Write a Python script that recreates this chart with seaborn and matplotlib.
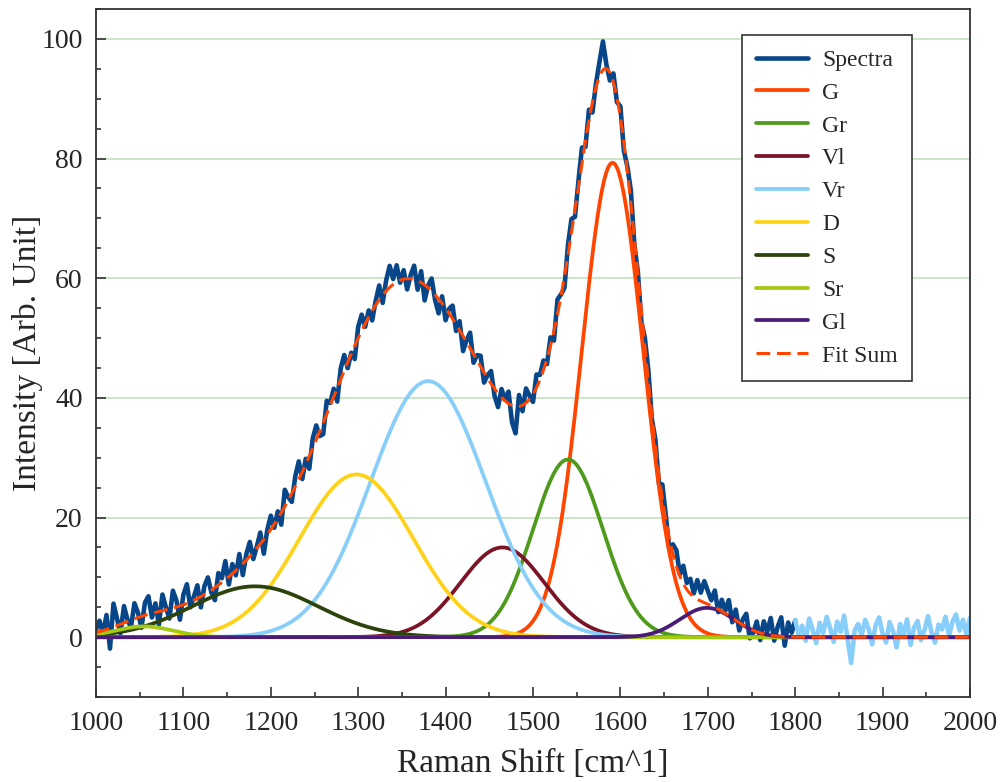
import numpy as np
import pandas as pd
import matplotlib
matplotlib.use("Agg")
import matplotlib.pyplot as plt
from matplotlib.ticker import MultipleLocator
import seaborn as sns

# ---- Peak fit results (Gaussian components) ----
peak_names   = ["G", "Gr", "Vl", "Vr", "D", "S", "Sr", "Gl"]
peak_centres = [1591, 1540, 1465, 1380, 1298, 1182, 1055, 1699]   # cm^-1
peak_heights = [79.3, 29.7, 15.0, 42.8, 27.2, 8.5, 1.8, 4.9]       # arb. unit
peak_sigmas  = [35, 40, 48, 66, 65, 72, 33, 31]                    # cm^-1
peak_colors  = ["#ff4500", "#4f9a1c", "#7a1426", "#87cefa",
                "#ffd21a", "#2c430b", "#a3c910", "#4a1c78"]

# ---- Measured spectrum, sampled every 4 cm^-1 ----
# stored as the deviation of each sample from the fit sum
fit_window = (1000, 1800)
tail_window = (1800, 2000)
sample_step = 4
residual_fit_window = [
    0.5, 1.8, -0.6, 2.4, -3.4, 3.9, 1.2, -1.5, 2.8, 0.3,
    -1.2, 2.6, 0.8, -1.9, 2.1, 3.0, -0.7, 1.5, -2.2, 2.7,
    0.4, -1.6, 2.9, 1.1, -2.3, 1.7, 3.2, -0.9, 0.6, 2.2,
    -1.8, 1.4, 2.5, -0.4, -2.1, 2.0, 0.7, 3.1, -1.3, 1.6,
    -0.8, 2.2, -1.9, 1.0, 2.4, -1.1, 0.3, 1.9, -2.4, 0.8,
    2.3, -0.6, 1.2, -2.0, 2.8, 0.5, -1.4, 1.7, 3.0, -1.2,
    0.9, -2.1, 1.6, 2.4, -0.8, -1.9, 2.2, 0.4, 1.3, -2.3,
    1.8, 2.6, -1.0, 0.2, -2.2, 1.9, 2.7, -0.5, 1.1, -1.6,
    0.7, 2.4, -1.3, 1.8, 3.6, 0.9, 2.8, -0.4, 1.5, -1.8,
    0.6, 2.3, -1.5, 1.9, -2.6, 0.4, 2.1, -0.9, -2.4, 1.2,
    -2.0, 0.8, 2.2, -1.1, 1.5, -2.5, 0.3, 2.6, -1.4, 0.9,
    1.8, -1.7, 0.5, 2.1, -1.2, -2.3, 1.4, 0.2, 2.0, -2.8,
    -4.5, 1.9, -1.0, 2.4, 0.6, -1.3, 2.2, 0.8, 1.6, -0.9,
    1.4, -1.6, 2.5, 0.3, -1.9, 1.7, 2.3, -1.2, 0.9, 2.6,
    -1.0, 1.8, -1.7, 0.6, 2.4, 4.8, 0.7, -1.3, 1.5, -0.8,
    1.9, -1.4, 0.8, 2.2, -1.1, 0.4, -1.8, 1.6, 2.0, -0.6,
    1.2, -1.5, 2.4, 0.8, -1.9, 1.6, 2.7, 0.3, 3.0, 1.1,
    2.5, 0.6, 3.2, 1.4, 3.6, 2.2, 0.9, 2.8, -0.5, 1.9,
    0.4, 2.6, -0.7, 1.8, -1.3, 0.9, 2.2, -1.6, -0.4, 1.7,
    -1.2, 2.1, 0.5, 2.9, -0.8, 1.6, 3.2, -1.5, 2.4, 0.7,
    2.8,
]
residual_tail = [
    2.8, 0.4, 1.9, -0.6, 3.1, 1.2, -1.0, 2.4, 0.7, 3.4,
    1.5, -0.8, 2.6, 0.9, 3.6, -0.4, -4.3, 1.1, 2.2, 0.3,
    2.9, 1.4, -1.2, 2.0, 3.3, 0.6, -0.9, 2.5, 1.0, -1.7,
    2.2, 0.5, 3.0, -1.3, 1.6, 2.7, -0.5, 1.2, 3.5, 0.8,
    -0.9, 2.1, 1.3, 3.4, 0.2, 2.6, 3.8, 1.1, 2.9, 0.4, 3.2,
]


def gaussian(x, centre, height, sigma):
    return height * np.exp(-0.5 * ((x - centre) / sigma) ** 2)


def fit_sum(x):
    return sum(gaussian(x, c, h, s)
               for c, h, s in zip(peak_centres, peak_heights, peak_sigmas))


shift_fit = np.arange(fit_window[0], fit_window[1] + 1, sample_step)
shift_tail = np.arange(tail_window[0], tail_window[1] + 1, sample_step)
spectrum_fit = fit_sum(shift_fit) + np.array(residual_fit_window)
spectrum_tail = fit_sum(shift_tail) + np.array(residual_tail)

model_x = np.linspace(1000, 2000, 1001)
components = pd.DataFrame({"shift": model_x})
for n, c, h, s in zip(peak_names, peak_centres, peak_heights, peak_sigmas):
    components[n] = gaussian(model_x, c, h, s)
components["Fit Sum"] = fit_sum(model_x)

# ---- Style ----
sns.set_style("ticks")
plt.rcParams["font.family"] = ["Liberation Serif", "DejaVu Serif"]
plt.rcParams["axes.edgecolor"] = "#333333"
plt.rcParams["axes.linewidth"] = 1.3

fig = plt.figure(figsize=(10.05, 7.82), dpi=100)
ax = fig.add_axes([96 / 1005, 1 - 697 / 782, 874 / 1005, 688 / 782])

ax.set_axisbelow(True)
ax.yaxis.grid(True, color="#c8e4c4", linewidth=1.3)

sns.lineplot(x=shift_fit, y=spectrum_fit, ax=ax, color="#08468a",
             linewidth=3.3, label="Spectra", sort=False, estimator=None)
sns.lineplot(x=shift_tail, y=spectrum_tail, ax=ax, color="#87cefa",
             linewidth=3.3, sort=False, estimator=None, legend=False)
for n, col in zip(peak_names, peak_colors):
    sns.lineplot(data=components, x="shift", y=n, ax=ax, color=col,
                 linewidth=2.7, label=n, estimator=None)
sns.lineplot(data=components, x="shift", y="Fit Sum", ax=ax,
             color="#ff4500", linewidth=2.2, dashes=False, label="Fit Sum",
             estimator=None)
ax.lines[-1].set_dashes((4.5, 2.2))

ax.set_xlim(1000, 2000)
ax.set_ylim(-10, 105)
ax.xaxis.set_major_locator(MultipleLocator(100))
ax.xaxis.set_minor_locator(MultipleLocator(50))
ax.yaxis.set_major_locator(MultipleLocator(20))
ax.yaxis.set_minor_locator(MultipleLocator(5))
ax.tick_params(which="both", direction="in", color="#333333", width=1.2,
               top=False, right=False, labelsize=20)
ax.tick_params(axis="x", which="major", pad=10)
ax.tick_params(axis="y", which="major", pad=9.5)
ax.tick_params(which="major", length=7.5)
ax.tick_params(which="minor", length=3.5)
for side in ["top", "right", "bottom", "left"]:
    ax.spines[side].set_visible(True)

ax.set_xlabel("Raman Shift [cm^1]", fontsize=24, labelpad=9)
ax.set_ylabel("Intensity [Arb. Unit]", fontsize=24)
ax.yaxis.set_label_coords(-0.0606, 0.5)

leg = ax.legend(loc="upper right", bbox_to_anchor=(0.9336, 0.962),
                borderaxespad=0, fontsize=17, frameon=True, fancybox=False,
                framealpha=1, edgecolor="#333333", handlelength=2.2,
                handletextpad=0.6, labelspacing=0.48, borderpad=0.6)
leg.get_frame().set_linewidth(1.2)

fig.savefig("out.png", dpi=100)
